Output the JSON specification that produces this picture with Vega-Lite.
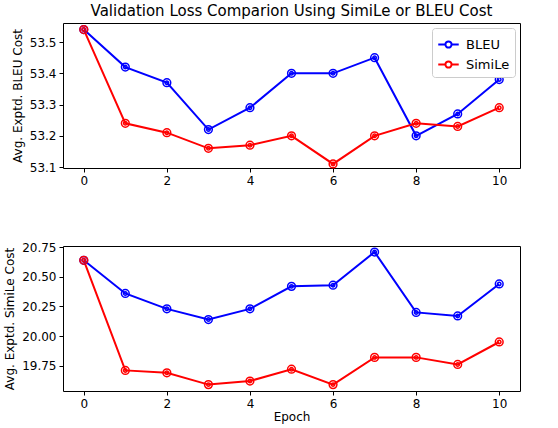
{
  "$schema": "https://vega.github.io/schema/vega-lite/v6.json",
  "description": "Validation loss per epoch when training with SimiLe or BLEU cost, two stacked panels.",
  "padding": {"left": 3, "top": 3, "right": 37, "bottom": 3},
  "spacing": 53,
  "datasets": {
    "loss": [
      {"epoch": 0, "method": "BLEU", "bleu": 53.54, "simile": 20.64},
      {"epoch": 1, "method": "BLEU", "bleu": 53.42, "simile": 20.36},
      {"epoch": 2, "method": "BLEU", "bleu": 53.37, "simile": 20.23},
      {"epoch": 3, "method": "BLEU", "bleu": 53.22, "simile": 20.14},
      {"epoch": 4, "method": "BLEU", "bleu": 53.29, "simile": 20.23},
      {"epoch": 5, "method": "BLEU", "bleu": 53.40, "simile": 20.42},
      {"epoch": 6, "method": "BLEU", "bleu": 53.40, "simile": 20.43},
      {"epoch": 7, "method": "BLEU", "bleu": 53.45, "simile": 20.71},
      {"epoch": 8, "method": "BLEU", "bleu": 53.20, "simile": 20.20},
      {"epoch": 9, "method": "BLEU", "bleu": 53.27, "simile": 20.17},
      {"epoch": 10, "method": "BLEU", "bleu": 53.38, "simile": 20.44},
      {"epoch": 0, "method": "SimiLe", "bleu": 53.54, "simile": 20.64},
      {"epoch": 1, "method": "SimiLe", "bleu": 53.24, "simile": 19.71},
      {"epoch": 2, "method": "SimiLe", "bleu": 53.21, "simile": 19.69},
      {"epoch": 3, "method": "SimiLe", "bleu": 53.16, "simile": 19.59},
      {"epoch": 4, "method": "SimiLe", "bleu": 53.17, "simile": 19.62},
      {"epoch": 5, "method": "SimiLe", "bleu": 53.20, "simile": 19.72},
      {"epoch": 6, "method": "SimiLe", "bleu": 53.11, "simile": 19.59},
      {"epoch": 7, "method": "SimiLe", "bleu": 53.20, "simile": 19.82},
      {"epoch": 8, "method": "SimiLe", "bleu": 53.24, "simile": 19.82},
      {"epoch": 9, "method": "SimiLe", "bleu": 53.23, "simile": 19.76},
      {"epoch": 10, "method": "SimiLe", "bleu": 53.29, "simile": 19.95}
    ]
  },
  "data": {"name": "loss"},
  "resolve": {"legend": {"color": "independent"}},
  "vconcat": [
    {
      "width": 457,
      "height": 145,
      "title": {
        "text": "Validation Loss Comparion Using SimiLe or BLEU Cost",
        "frame": "group",
        "anchor": "middle",
        "fontSize": 15,
        "fontWeight": "normal",
        "offset": 4
      },
      "encoding": {
        "x": {
          "field": "epoch",
          "type": "quantitative",
          "scale": {"domain": [-0.5, 10.5], "nice": false, "zero": false},
          "axis": {"values": [0, 2, 4, 6, 8, 10], "title": null}
        },
        "y": {
          "field": "bleu",
          "type": "quantitative",
          "scale": {"domain": [53.097, 53.561], "nice": false, "zero": false},
          "axis": {"values": [53.1, 53.2, 53.3, 53.4, 53.5], "format": ".1f", "title": "Avg. Exptd. BLEU Cost"}
        },
        "color": {
          "field": "method",
          "type": "nominal",
          "scale": {"domain": ["BLEU", "SimiLe"], "range": ["#0000ff", "#ff0000"]},
          "legend": {
            "title": null,
            "orient": "top-right",
            "offset": 5,
            "padding": 5,
            "strokeColor": "#cccccc",
            "fillColor": "white",
            "cornerRadius": 3,
            "labelFontSize": 13,
            "labelOffset": 6,
            "rowPadding": 1,
            "symbolType": "M-1,0L-0.3,0M0.3,0L1,0M-0.3,0A0.3,0.3,0,1,1,0.3,0A0.3,0.3,0,1,1,-0.3,0",
            "symbolSize": 420,
            "symbolStrokeWidth": 2,
            "symbolFillColor": "transparent"
          }
        }
      },
      "layer": [
        {"mark": {"type": "line", "strokeWidth": 2}},
        {"mark": {"type": "point", "filled": false, "size": 60, "strokeWidth": 1.5, "opacity": 1}},
        {"mark": {"type": "point", "filled": false, "size": 12, "strokeWidth": 1.5, "opacity": 1}}
      ]
    },
    {
      "width": 457,
      "height": 145,
      "encoding": {
        "x": {
          "field": "epoch",
          "type": "quantitative",
          "scale": {"domain": [-0.5, 10.5], "nice": false, "zero": false},
          "axis": {"values": [0, 2, 4, 6, 8, 10], "title": "Epoch"}
        },
        "y": {
          "field": "simile",
          "type": "quantitative",
          "scale": {"domain": [19.536, 20.761], "nice": false, "zero": false},
          "axis": {"values": [19.75, 20.0, 20.25, 20.5, 20.75], "format": ".2f", "title": "Avg. Exptd. SimiLe Cost"}
        },
        "color": {
          "field": "method",
          "type": "nominal",
          "scale": {"domain": ["BLEU", "SimiLe"], "range": ["#0000ff", "#ff0000"]},
          "legend": null
        }
      },
      "layer": [
        {"mark": {"type": "line", "strokeWidth": 2}},
        {"mark": {"type": "point", "filled": false, "size": 60, "strokeWidth": 1.5, "opacity": 1}},
        {"mark": {"type": "point", "filled": false, "size": 12, "strokeWidth": 1.5, "opacity": 1}}
      ]
    }
  ],
  "config": {
    "font": "DejaVu Sans",
    "view": {"stroke": "black", "strokeWidth": 1},
    "title": {"font": "DejaVu Sans", "color": "black"},
    "axis": {
      "grid": false,
      "domain": false,
      "labelFont": "DejaVu Sans",
      "labelFontSize": 12,
      "labelColor": "black",
      "titleFont": "DejaVu Sans",
      "titleFontSize": 12,
      "titleFontWeight": "normal",
      "titleColor": "black",
      "tickColor": "black",
      "tickSize": 4,
      "labelPadding": 3
    },
    "axisY": {"titlePadding": 5},
    "axisX": {"titlePadding": 2},
    "legend": {"labelFont": "DejaVu Sans", "labelColor": "black"}
  }
}
